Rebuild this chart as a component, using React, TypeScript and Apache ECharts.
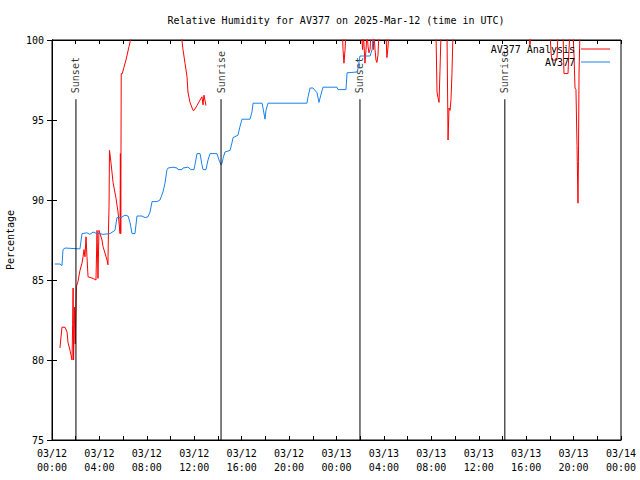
import React, { useEffect, useRef } from "react";
import * as echarts from "echarts";

const titleText = "Relative Humidity for AV377 on 2025-Mar-12 (time in UTC)";
const yAxisName = "Percentage";
const analysisName = "AV377 Analysis";
const obsName = "AV377";

// hours since 03/12 00:00 UTC
const obsHours = [0.25, 0.67, 0.84, 0.93, 1.1, 2.19, 2.36, 2.53, 2.95, 3.2, 3.46, 3.8, 4.05, 4.3, 4.89, 5.31, 5.48, 5.82, 6.16, 6.41, 6.58, 6.75, 7.0, 7.17, 7.59, 7.85, 8.1, 8.27, 8.44, 8.86, 9.11, 9.36, 9.53, 9.7, 9.79, 10.21, 10.55, 10.63, 10.97, 11.05, 11.47, 11.73, 11.98, 12.06, 12.23, 12.49, 12.65, 12.74, 12.99, 13.16, 13.33, 13.92, 14.09, 14.26, 14.34, 14.43, 14.59, 15.02, 15.19, 15.27, 15.69, 15.86, 16.03, 16.7, 16.87, 16.96, 17.72, 17.8, 17.97, 18.05, 18.22, 21.51, 21.6, 21.77, 22.02, 22.36, 22.52, 22.69, 22.86, 24.04, 24.13, 24.8, 24.89, 25.73, 25.81, 25.98, 26.83, 27.0, 27.08];
const obsValues = [86.0, 86.0, 85.9, 86.9, 87.0, 86.95, 86.95, 87.9, 87.95, 87.85, 88.0, 87.9, 87.9, 87.85, 87.9, 88.1, 88.9, 88.9, 89.05, 89.0, 88.6, 87.9, 87.9, 89.0, 89.0, 88.9, 88.95, 89.25, 89.9, 89.9, 90.0, 90.5, 91.05, 91.9, 92.0, 92.05, 92.0, 91.9, 91.9, 92.0, 92.05, 91.9, 91.9, 92.2, 92.9, 92.9, 92.2, 91.9, 91.9, 92.5, 92.9, 92.9, 92.5, 92.2, 92.3, 92.6, 93.0, 93.1, 93.6, 93.9, 94.05, 94.6, 95.05, 95.05, 95.5, 96.05, 96.05, 95.75, 95.05, 95.6, 96.05, 96.05, 96.45, 97.0, 97.0, 96.7, 96.1, 96.6, 97.05, 97.05, 96.9, 96.9, 97.95, 98.0, 98.2, 99.0, 99.0, 99.4, 100.0];

const anaHours = [0.67, 0.84, 1.1, 1.27, 1.35, 1.52, 1.69, 1.74, 1.78, 1.82, 1.9, 1.96, 2.06, 2.19, 2.36, 2.53, 2.62, 2.7, 2.78, 2.87, 2.95, 3.04, 3.46, 3.71, 3.8, 3.88, 3.96, 4.05, 4.22, 4.3, 4.64, 4.72, 4.76, 4.81, 4.85, 4.98, 5.15, 5.4, 5.57, 5.74, 5.77, 5.8, 5.84, 5.93, 6.07, 6.24, 6.5, 6.75, 8.0, 10.0, 10.9, 11.05, 11.22, 11.39, 11.47, 11.64, 11.9, 11.98, 12.23, 12.49, 12.65, 12.74, 12.82, 12.99, 13.0,
  24.3, 24.5, 24.55, 24.63, 24.72, 24.8, 26.1, 26.2, 26.28, 26.4, 26.49, 26.57, 26.66, 26.74, 26.83, 26.91, 27.05, 27.1, 27.16, 27.25, 27.33, 27.41, 27.5, 27.58, 28.17, 28.25, 28.34, 28.42, 32.39, 32.48, 32.56, 32.65, 32.73, 32.82, 33.32, 33.41, 33.49, 33.58, 33.66, 33.74, 33.83, 40.24, 40.32, 40.41, 42.01, 42.1, 42.18, 42.6, 42.69, 43.11, 43.19, 43.53, 43.61, 43.7, 43.95, 44.04, 44.12, 44.2, 44.29, 44.37, 44.41, 44.46, 44.54, 48.0];
const anaValues = [80.75, 82.05, 82.05, 81.75, 81.1, 80.6, 80.0, 82.2, 84.5, 80.0, 83.3, 81.0, 84.6, 84.9, 85.6, 86.05, 86.45, 86.9, 86.45, 87.7, 86.45, 85.2, 85.1, 85.0, 88.1, 85.1, 88.1, 87.9, 87.5, 87.1, 86.25, 85.95, 88.0, 89.55, 93.1, 92.3, 91.1, 90.1, 89.25, 87.9, 92.9, 87.9, 97.9, 97.9, 98.3, 98.75, 99.6, 100.4, 101.0, 101.0, 100.4, 99.4, 98.55, 97.7, 96.75, 96.1, 95.6, 95.6, 95.9, 96.25, 96.45, 95.95, 96.55, 95.9, null,
  100.5, 100.5, 99.4, 98.55, 99.4, 100.5, 100.5, 99.4, 100.3, 98.55, 99.4, 100.5, 99.6, 99.2, 99.4, 100.5, 100.5, 99.4, 100.5, 99.4, 98.75, 98.6, 99.05, 100.5, 100.5, 98.9, 99.5, 100.5, 100.5, 96.75, 96.4, 96.1, 98.1, 100.5, 100.5, 93.75, 95.75, 95.6, 96.3, 97.9, 100.5, 100.5, 99.7, 100.5, 100.5, 99.2, 98.75, 98.75, 100.5, 100.5, 97.9, 97.9, 99.4, 100.5, 100.5, 99.0, 97.0, 96.9, 93.4, 89.8, 92.4, 98.0, 100.5, 100.5];

const sunHours = [2.02, 14.26, 25.98, 38.2];
const sunNames = ["Sunset", "Sunrise", "Sunset", "Sunrise"];
const sunLineTop = 96.3;
const sunLineBottom = 75;

const dayLabels = ["03/12", "03/13", "03/14"];

export default function App() {
  const ref = useRef<HTMLDivElement>(null);
  useEffect(() => {
    const chart = echarts.init(ref.current!, null, { renderer: "svg" });
    const font = "DejaVu Sans Mono";
    const black = "#000";
    const pair = (xs: number[], ys: (number | null)[]) =>
      xs.map((x, i) => [x, ys[i] === null ? "-" : ys[i]]);
    const sunLine: any[] = [];
    sunHours.forEach((h) => {
      sunLine.push([h, sunLineBottom], [h, sunLineTop], [h, "-"]);
    });
    const xFmt = (v: number) => {
      const d = Math.floor(v / 24);
      const hh = Math.round(v - d * 24);
      return `${dayLabels[d]}\n${String(hh).padStart(2, "0")}:00`;
    };
    const baseX = {
      type: "value",
      min: 0,
      max: 48,
      interval: 4,
      axisLine: { show: true, lineStyle: { color: black, width: 1 } },
      axisTick: { show: true, inside: true, length: 4, lineStyle: { color: black } },
      minorTick: { show: true, splitNumber: 2, length: 4, lineStyle: { color: black } },
      splitLine: { show: false },
    };
    const baseY = {
      type: "value",
      min: 75,
      max: 100,
      interval: 5,
      axisLine: { show: true, lineStyle: { color: black, width: 1 } },
      axisTick: { show: true, inside: true, length: 5, lineStyle: { color: black } },
      splitLine: { show: false },
    };
    const legendCommon = {
      orient: "horizontal",
      right: 30,
      itemWidth: 29,
      itemHeight: 1,
      align: "right",
      padding: 0,
      itemGap: 0,
      selectedMode: false,
      textStyle: { fontFamily: font, fontSize: 10, color: black, padding: [0, 1, 0, 0] },
    };
    chart.setOption({
      animation: false,
      backgroundColor: "#fff",
      title: {
        text: titleText,
        left: 331,
        top: 10,
        textAlign: "center",
        textStyle: { fontFamily: font, fontSize: 10, fontWeight: "normal", color: black },
      },
      legend: [
        { ...legendCommon, top: 44, data: [{ name: analysisName, icon: "rect" }] },
        { ...legendCommon, top: 57, data: [{ name: obsName, icon: "rect" }] },
      ],
      grid: {
        left: 52,
        top: 40,
        right: 19,
        bottom: 40,
        containLabel: false,
        outerBoundsMode: "none",
        show: true,
        borderColor: black,
        borderWidth: 1,
        backgroundColor: "transparent",
      },
      xAxis: [
        {
          ...baseX,
          position: "bottom",
          axisLabel: { formatter: xFmt, color: black, fontFamily: font, fontSize: 10, lineHeight: 14, margin: 6 },
        },
        { ...baseX, position: "top", axisLabel: { show: false } },
      ],
      yAxis: [
        {
          ...baseY,
          position: "left",
          name: yAxisName,
          nameLocation: "middle",
          nameGap: 37,
          nameTextStyle: { fontFamily: font, fontSize: 10, color: black },
          axisLabel: { color: black, fontFamily: font, fontSize: 10, margin: 8 },
        },
        { ...baseY, position: "right", axisLabel: { show: false } },
      ],
      series: [
        {
          name: analysisName,
          type: "line",
          data: pair(anaHours, anaValues),
          symbol: "none",
          clip: true,
          connectNulls: false,
          lineStyle: { color: "#ff0000", width: 1 },
          itemStyle: { color: "#ff0000" },
        },
        {
          name: obsName,
          type: "line",
          data: pair(obsHours, obsValues),
          symbol: "none",
          clip: true,
          lineStyle: { color: "#1a82ea", width: 1 },
          itemStyle: { color: "#1a82ea" },
        },
        {
          name: "sun",
          type: "line",
          data: sunLine,
          symbol: "none",
          silent: true,
          connectNulls: false,
          lineStyle: { color: black, width: 1 },
          itemStyle: { color: black },
        },
        {
          name: "sunLabels",
          type: "scatter",
          symbolSize: 0,
          silent: true,
          data: sunHours.map((h, i) => ({ value: [h, sunLineTop], name: sunNames[i] })),
          label: {
            show: true,
            formatter: "{b}",
            position: "top",
            distance: 6,
            rotate: 90,
            align: "left",
            verticalAlign: "middle",
            fontFamily: font,
            fontSize: 10,
            color: black,
          },
        },
      ],
    });
    return () => chart.dispose();
  }, []);
  return (
    <div
      ref={ref}
      style={{ position: "fixed", left: 0, top: 0, width: 640, height: 480, background: "#fff" }}
    />
  );
}
